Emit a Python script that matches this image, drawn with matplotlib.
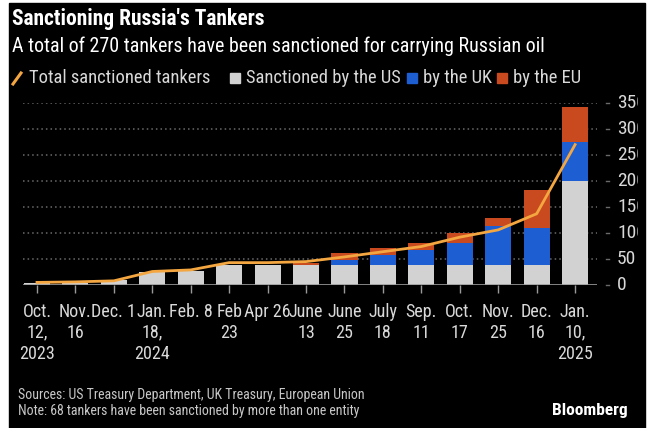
#!/usr/bin/env python3
"""Sanctioning Russia's tankers - stacked bars + total line."""
import matplotlib
matplotlib.use('Agg')
from matplotlib import pyplot as plt
from matplotlib.patches import Rectangle
from matplotlib.lines import Line2D
from matplotlib.transforms import Bbox, TransformedBbox
import numpy as np

# data
dates = ['Oct.\n12,\n2023', 'Nov.\n16', 'Dec. 1', 'Jan.\n18,\n2024', 'Feb. 8',
         'Feb\n23', 'Apr 26', 'June\n13', 'June\n25', 'July\n18', 'Sep.\n11',
         'Oct.\n17', 'Nov.\n25', 'Dec.\n16', 'Jan.\n10,\n2025']
by_us = [3, 4, 10, 25, 27, 38, 38, 38, 38, 38, 38, 38, 38, 38, 200]
by_uk = [0, 0, 0, 0, 0, 0, 0, 0, 10, 19, 29, 43, 75, 72, 75]
by_eu = [0, 0, 0, 0, 0, 0, 0, 5, 13, 14, 14, 19, 16, 72, 67]
total = [5, 6, 8, 26, 29, 43, 43, 45, 54, 64, 74, 92, 106, 137, 270]
y_ticks = [0, 50, 100, 150, 200, 250, 300, 350]

W, H = 651, 428
GRAY = '#d2d2d2'
BLUE = '#1d5fd3'
RED = '#c94a1e'
LINE = '#f4a640'
TXT = '#d9d9d9'
# condensed face; falls back to DejaVu Sans Condensed via fontstretch
NARROW = ['Roboto Condensed', 'DejaVu Sans']
FONT = dict(family=NARROW, fontstretch='condensed')


def fx(x):
    return x / W


def fy(y):
    return 1 - y / H


def run():
    fig = plt.figure(figsize=(W / 100, H / 100), dpi=100, facecolor='white')
    # black card with a thin white frame, as in the screenshot
    fig.patches.append(Rectangle((fx(9), 0), fx(645) - fx(9), fy(3),
                                 transform=fig.transFigure, color='black', zorder=-5))

    ax = fig.add_axes([fx(23), fy(285), fx(597) - fx(23), fy(103) - fy(285)])
    ax.patch.set_alpha(0)

    x = np.arange(len(dates))
    us = np.array(by_us)
    uk = np.array(by_uk)
    eu = np.array(by_eu)
    w = 0.68
    ax.bar(x, us, w, color=GRAY, zorder=2)
    ax.bar(x, uk, w, bottom=us, color=BLUE, zorder=2)
    ax.bar(x, eu, w, bottom=us + uk, color=RED, zorder=2)
    ax.plot(x, total, color=LINE, lw=2, zorder=3, solid_joinstyle='round')

    ax.set_xlim(-0.364, 14.57)
    ax.set_ylim(0, 350)
    for v in y_ticks[1:]:
        ax.axhline(v, color='#6a6a6a', lw=1.1, ls=(0, (1, 2)), zorder=1)
    ax.axhline(0, color='#9a9a9a', lw=1.2, zorder=4)

    for s in ax.spines.values():
        s.set_visible(False)
    ax.set_yticks([])
    ax.set_xticks(x)
    ax.set_xticklabels(dates, fontsize=13, color=TXT, linespacing=1.2, **FONT)
    ax.tick_params(axis='x', length=6, width=1, color='#9a9a9a', pad=7)

    # y labels on the right, clipped by the screenshot edge
    clip = TransformedBbox(Bbox([[0, 0], [fx(638), 1]]), fig.transFigure)
    for v in y_ticks:
        yy = fy(285 - v * 182 / 350)
        t = fig.text(fx(617), yy, str(v), fontsize=14, color=TXT,
                     ha='left', va='center', **FONT)
        t.set_clip_box(clip)
        t.set_clip_on(True)
        fig.add_artist(Line2D([fx(606), fx(609)], [yy, yy],
                              transform=fig.transFigure, color='#6a6a6a', lw=1))

    # titles
    fig.text(fx(12), fy(19), "Sanctioning Russia's Tankers", fontsize=15.5,
             fontweight='bold', color='white', va='center', **FONT)
    fig.text(fx(12), fy(46), 'A total of 270 tankers have been sanctioned for carrying Russian oil',
             fontsize=14.4, color='white', va='center', **FONT)

    # legend
    ly = fy(78)
    fig.add_artist(Line2D([fx(13), fx(21)], [fy(84), fy(73)],
                          transform=fig.transFigure, color=LINE, lw=2.2))
    fig.text(fx(29), ly, 'Total sanctioned tankers', fontsize=13.3, color=TXT,
             va='center', **FONT)
    for x0, c, label in [(230, GRAY, 'Sanctioned by the US'),
                         (407, BLUE, 'by the UK'),
                         (497, RED, 'by the EU')]:
        fig.patches.append(Rectangle((fx(x0), fy(83)), fx(10), fy(73) - fy(83),
                                     transform=fig.transFigure, color=c))
        fig.text(fx(x0 + 16), ly, label, fontsize=13.3, color=TXT,
                 va='center', **FONT)

    # footer
    fig.text(fx(18), fy(395), 'Sources: US Treasury Department, UK Treasury, European Union',
             fontsize=10, color='#c8c8c8', va='center', **FONT)
    fig.text(fx(18), fy(411), 'Note: 68 tankers have been sanctioned by more than one entity',
             fontsize=10, color='#c8c8c8', va='center', **FONT)
    fig.text(fx(628), fy(410), 'Bloomberg', fontsize=12.5, fontweight='bold',
             color='white', va='center', ha='right', **FONT)

    fig.savefig('out.png', dpi=100, facecolor='white')


if __name__ == '__main__':
    run()
